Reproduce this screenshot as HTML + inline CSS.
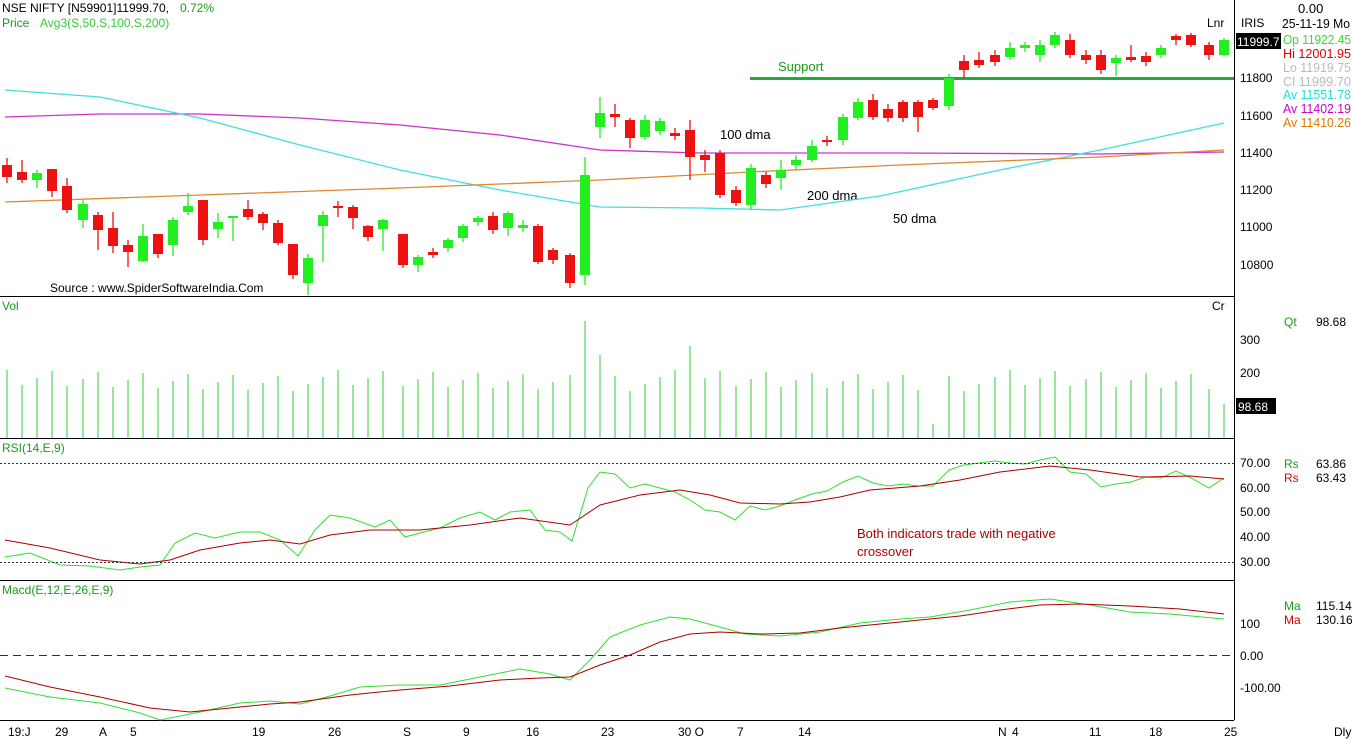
<!DOCTYPE html>
<html><head><meta charset="utf-8"><style>
html,body{margin:0;padding:0;background:#fff;}
svg{display:block;font-family:"Liberation Sans",sans-serif;}
</style></head><body>
<svg id="s" width="1352" height="740" xmlns="http://www.w3.org/2000/svg">
<rect width="1352" height="740" fill="#fff"/>
<g stroke="#000" stroke-width="1">
<line x1="1234.5" y1="0" x2="1234.5" y2="720"/>
<line x1="0" y1="296.5" x2="1234" y2="296.5"/>
<line x1="0" y1="438.5" x2="1234" y2="438.5"/>
<line x1="0" y1="580.5" x2="1234" y2="580.5"/>
<line x1="0" y1="720.5" x2="1234" y2="720.5"/>
</g>
<g font-size="12" fill="#000">
<text x="2" y="12">NSE NIFTY [N59901]11999.70,</text>
<text x="180" y="12" fill="#1a9a1a">0.72%</text>
<text x="2" y="27" fill="#1a9a1a">Price</text>
<text x="40" y="27" fill="#33cc33">Avg3(S,50,S,100,S,200)</text>
<text x="1207" y="27">Lnr</text>
<text x="1241" y="27">IRIS</text>
<text x="1298" y="13" font-size="13">0.00</text>
<text x="1282" y="28" font-size="13" textLength="68" lengthAdjust="spacingAndGlyphs">25-11-19 Mo</text>
<rect x="1236" y="33" width="45" height="16" fill="#000"/>
<text x="1237" y="46" fill="#fff">11999.7</text>
<g font-size="13">
<text x="1283" y="44" fill="#33dd33" textLength="68" lengthAdjust="spacingAndGlyphs">Op 11922.45</text>
<text x="1283" y="58" fill="#dd0000" textLength="68" lengthAdjust="spacingAndGlyphs">Hi  12001.95</text>
<text x="1283" y="72" fill="#bbb" textLength="68" lengthAdjust="spacingAndGlyphs">Lo  11919.75</text>
<text x="1283" y="86" fill="#bbb" textLength="68" lengthAdjust="spacingAndGlyphs">Cl  11999.70</text>
<text x="1283" y="99" fill="#22dddd" textLength="68" lengthAdjust="spacingAndGlyphs">Av 11551.78</text>
<text x="1283" y="113" fill="#cc00cc" textLength="68" lengthAdjust="spacingAndGlyphs">Av 11402.19</text>
<text x="1283" y="127" fill="#dd7700" textLength="68" lengthAdjust="spacingAndGlyphs">Av 11410.26</text>
</g>
<text x="1240" y="82">11800</text>
<text x="1240" y="120">11600</text>
<text x="1240" y="157">11400</text>
<text x="1240" y="194">11200</text>
<text x="1240" y="231">11000</text>
<text x="1240" y="269">10800</text>
<text x="778" y="71" fill="#1a9a1a" font-size="13">Support</text>
<text x="720" y="139" font-size="13">100 dma</text>
<text x="807" y="200" font-size="13">200 dma</text>
<text x="893" y="223" font-size="13">50 dma</text>
<text x="50" y="292">Source : www.SpiderSoftwareIndia.Com</text>
<text x="2" y="310" fill="#1a9a1a">Vol</text>
<text x="1212" y="310">Cr</text>
<text x="1284" y="326" fill="#1a9a1a">Qt</text>
<text x="1316" y="326">98.68</text>
<text x="1240" y="344">300</text>
<text x="1240" y="377">200</text>
<rect x="1236" y="398" width="40" height="16" fill="#000"/>
<text x="1238" y="411" fill="#fff">98.68</text>
<text x="2" y="452" fill="#1a9a1a">RSI(14,E,9)</text>
<text x="1240" y="467">70.00</text>
<text x="1240" y="492">60.00</text>
<text x="1240" y="516">50.00</text>
<text x="1240" y="541">40.00</text>
<text x="1240" y="566">30.00</text>
<text x="1284" y="468" fill="#1a9a1a">Rs</text><text x="1316" y="468">63.86</text>
<text x="1284" y="482" fill="#dd0000">Rs</text><text x="1316" y="482">63.43</text>
<text x="857" y="538" fill="#aa0000" font-size="13">Both indicators trade with negative</text>
<text x="857" y="556" fill="#aa0000" font-size="13">crossover</text>
<text x="2" y="594" fill="#1a9a1a">Macd(E,12,E,26,E,9)</text>
<text x="1240" y="628">100</text>
<text x="1240" y="660">0.00</text>
<text x="1240" y="692">-100.00</text>
<text x="1284" y="610" fill="#1a9a1a">Ma</text><text x="1316" y="610">115.14</text>
<text x="1284" y="624" fill="#dd0000">Ma</text><text x="1316" y="624">130.16</text>
<g font-size="12">
<text x="8" y="736">19:J</text><text x="55" y="736">29</text><text x="99" y="736">A</text><text x="130" y="736">5</text>
<text x="252" y="736">19</text><text x="328" y="736">26</text><text x="403" y="736">S</text><text x="463" y="736">9</text>
<text x="526" y="736">16</text><text x="601" y="736">23</text><text x="678" y="736">30 O</text><text x="737" y="736">7</text>
<text x="798" y="736">14</text><text x="998" y="736">N</text><text x="1012" y="736">4</text><text x="1089" y="736">11</text>
<text x="1149" y="736">18</text><text x="1224" y="736">25</text><text x="1334" y="736">Dly</text>
</g>
</g>
<line x1="750" y1="78.5" x2="1234" y2="78.5" stroke="#22aa33" stroke-width="3"/>
<g id="dyn"></g>
<line x1="0" y1="463.5" x2="1234" y2="463.5" stroke="#333" stroke-dasharray="2,2"/>
<line x1="0" y1="562.5" x2="1234" y2="562.5" stroke="#333" stroke-dasharray="2,2"/>
<line x1="0" y1="655.5" x2="1234" y2="655.5" stroke="#333" stroke-dasharray="8,5"/>
</svg>
<script>
var NS="http://www.w3.org/2000/svg",g=document.getElementById("dyn");
function el(t,a){var e=document.createElementNS(NS,t);for(var k in a)e.setAttribute(k,a[k]);g.appendChild(e);return e;}
function pl(p,c,w){el("polyline",{points:p,fill:"none",stroke:c,"stroke-width":w||1});}
pl("5,117 100,114 200,114 300,118 400,125 500,135 600,150 700,153 900,153 1100,154 1224,152","#cc33cc",1.3);
pl("5,90 100,97 200,118 300,145 400,170 500,190 600,207 700,208 780,210 880,196 1000,170 1100,150 1224,123","#44dddd",1.3);
pl("5,202 200,195 400,188 600,180 750,172 900,165 1100,157 1224,150","#dd8833",1.3);
var C=[[7,'r',165,177,158,183],[22,'r',172,180,160,183],[37,'g',173,180,170,188],[52,'r',169,191,169,197],[67,'r',186,210,178,213],[83,'g',204,220,200,228],[98,'r',215,230,212,250],[113,'r',228,246,212,253],[128,'r',245,252,240,267],[143,'g',236,261,224,262],[158,'r',234,254,234,258],[173,'g',220,245,217,256],[188,'g',206,212,193,215],[203,'r',200,240,200,245],[218,'g',222,229,213,238],[233,'g',216,218,216,241],[248,'r',209,217,200,220],[263,'r',214,223,212,230],[278,'r',223,243,220,245],[293,'r',244,275,244,279],[308,'g',258,283,254,295],[323,'g',215,226,211,262],[338,'r',206,208,201,217],[353,'r',207,218,205,229],[368,'r',226,237,225,241],[383,'g',220,229,219,251],[403,'r',234,265,234,268],[418,'g',257,265,255,272],[433,'r',252,255,248,258],[448,'g',240,248,238,252],[463,'g',226,238,224,242],[478,'g',218,222,216,226],[493,'r',216,230,212,234],[508,'g',213,228,211,236],[523,'g',225,228,220,232],[538,'r',226,262,224,264],[553,'r',250,260,248,264],[570,'r',255,283,253,288],[585,'g',175,275,157,285],[600,'g',113,127,97,138],[615,'r',114,117,104,127],[630,'r',120,138,118,148],[645,'g',120,137,115,140],[660,'g',121,131,118,135],[675,'r',133,136,128,140],[690,'r',130,157,120,180],[705,'r',155,160,150,172],[720,'r',153,195,150,198],[736,'r',190,203,186,206],[751,'g',168,205,164,210],[766,'r',175,184,172,188],[781,'g',170,178,160,190],[796,'g',160,165,155,170],[812,'g',146,160,140,162],[827,'r',140,142,136,146],[843,'g',117,140,114,145],[858,'g',102,118,98,120],[873,'r',100,117,94,120],[888,'r',109,118,104,122],[903,'r',102,118,100,122],[918,'r',102,117,100,132],[933,'r',100,108,98,110],[949,'g',78,106,74,110],[964,'r',61,70,55,78],[979,'r',60,65,52,68],[995,'r',55,62,50,66],[1010,'g',48,57,42,60],[1025,'g',45,48,42,52],[1040,'g',45,55,40,62],[1055,'g',35,45,32,48],[1070,'r',40,55,34,58],[1086,'r',55,60,50,64],[1101,'r',55,70,50,74],[1116,'g',58,63,55,76],[1131,'r',57,60,45,62],[1146,'r',56,62,52,66],[1161,'g',48,55,45,58],[1176,'r',36,40,34,45],[1191,'r',35,45,33,47],[1209,'r',45,55,42,60],[1224,'g',40,55,38,56]];
var V={585:321,1178:315,1193:345,600:355,690:346,980:333,948:358,1133:356,1163:348,933:424,1224:404,859:355,1071:362};
C.forEach(function(c,i){var col=c[1]=='r'?'#ee1111':'#22ee22';
el("line",{x1:c[0],x2:c[0],y1:c[4],y2:c[5],stroke:col,"stroke-width":1.3});
el("rect",{x:c[0]-5,y:c[2],width:10,height:Math.max(2,c[3]-c[2]),fill:col});
var vt=V[c[0]]||(370+((i*37)%22));
el("line",{x1:c[0],x2:c[0],y1:vt,y2:438,stroke:"#33cc33","stroke-width":1});});
pl("5,557 30,553 60,565 90,566 120,570 140,567 160,565 175,543 195,533 215,538 240,532 260,532 280,540 298,556 315,530 330,515 350,518 375,527 390,520 405,537 420,533 440,528 460,518 480,512 495,520 510,512 530,510 545,530 560,532 572,541 588,488 600,472 615,474 630,488 645,484 660,488 675,492 690,500 705,510 720,512 735,520 750,506 765,510 780,506 795,500 812,494 827,491 843,482 858,476 873,483 888,486 903,484 918,486 933,486 949,470 964,465 979,463 995,461 1010,463 1025,464 1040,460 1055,457 1070,472 1086,474 1101,487 1116,484 1131,482 1146,477 1161,478 1176,471 1191,478 1209,488 1224,478","#33dd33");
pl("5,540 50,548 100,560 140,564 170,560 200,550 240,543 270,540 300,544 330,535 370,530 420,530 470,525 520,518 570,525 600,505 640,495 680,490 710,495 740,503 780,504 810,502 840,497 870,490 920,486 960,480 1000,472 1050,466 1090,470 1140,477 1190,476 1224,479","#aa0000");
pl("5,688 50,697 100,703 140,713 160,720 200,712 240,703 270,701 300,704 330,696 360,687 400,685 440,685 480,677 520,669 550,674 570,680 590,660 610,637 640,625 670,617 690,619 720,627 745,634 780,636 820,632 860,623 900,619 930,617 970,610 1010,602 1050,599 1090,605 1130,612 1170,614 1224,619","#33dd33");
pl("5,676 50,687 100,697 150,708 190,712 230,708 270,704 300,702 350,695 400,690 450,686 500,680 540,678 570,677 600,665 630,655 660,642 690,634 720,632 760,634 800,633 840,628 880,624 920,620 960,616 1000,610 1040,605 1080,604 1130,606 1180,609 1224,614","#aa0000");
</script>
</body></html>
